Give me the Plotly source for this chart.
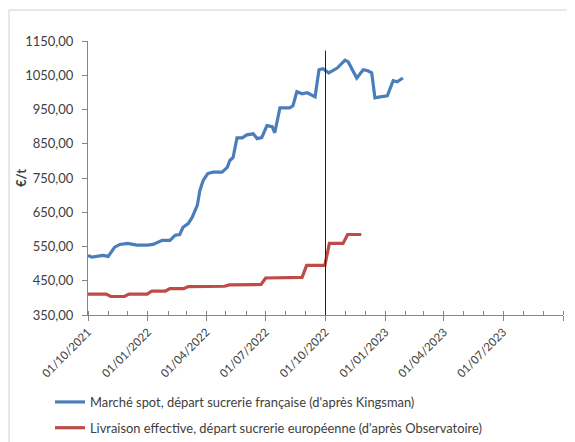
import plotly.graph_objects as go

blue_dates = ["2021-10-01","2021-10-07","2021-10-24","2021-11-01","2021-11-11","2021-11-19","2021-12-01","2021-12-15","2021-12-31",
              "2022-01-09","2022-01-23","2022-02-04","2022-02-12","2022-02-19","2022-02-24","2022-03-04","2022-03-10","2022-03-18",
              "2022-03-22","2022-03-27","2022-04-03","2022-04-11","2022-04-25","2022-05-03","2022-05-07","2022-05-12","2022-05-15",
              "2022-05-18","2022-05-26","2022-06-02","2022-06-12","2022-06-18","2022-06-25","2022-07-03","2022-07-11","2022-07-15",
              "2022-07-23","2022-08-07","2022-08-12","2022-08-18","2022-08-26","2022-09-03","2022-09-15","2022-09-21","2022-09-27",
              "2022-10-06","2022-10-19","2022-10-31","2022-11-05","2022-11-18","2022-11-28","2022-12-05","2022-12-11","2022-12-16",
              "2022-12-24","2023-01-04","2023-01-13","2023-01-19","2023-01-28"]
blue_values = [524,519,524,521,548,556,559,554,554,
               556,568,568,583,585,606,617,635,670,
               714,743,763,767,767,781,801,810,839,
               867,867,876,879,865,868,903,900,882,
               955,955,961,1002,996,999,987,1066,1069,
               1057,1071,1094,1089,1042,1066,1063,1057,984,
               987,990,1034,1031,1042]

red_dates = ["2021-10-01","2021-10-29","2021-11-05","2021-11-26","2021-12-03","2021-12-31",
             "2022-01-07","2022-01-28","2022-02-04","2022-02-25","2022-03-04","2022-03-25",
             "2022-04-01","2022-04-29","2022-05-06","2022-05-27","2022-06-03","2022-06-24",
             "2022-07-01","2022-07-29","2022-08-05","2022-08-26","2022-09-02","2022-09-30",
             "2022-10-07","2022-10-28","2022-11-04","2022-11-25"]
red_values = [411,411,404,404,411,411,
              420,420,427,427,433,433,
              434,434,438,438,439,439,
              458,458,460,460,495,495,
              559,559,585,585]

y_ticks = [350,450,550,650,750,850,950,1050,1150]
marker_date = "2022-10-01"

name_blue = "Marché spot, départ sucrerie française (d'après Kingsman)"
name_red = "Livraison effective, départ sucrerie européenne (d'après Observatoire)"

FONT = "Lato"
TXT = "#404040"
AX = "#868686"

fig = go.Figure()
fig.add_trace(go.Scatter(x=blue_dates, y=blue_values, mode="lines", name=name_blue,
                         legendgroup="a", line=dict(color="#4A7EBB", width=3.2)))
fig.add_trace(go.Scatter(x=red_dates, y=red_values, mode="lines", name=name_red,
                         legendgroup="b", line=dict(color="#BE4B48", width=3.2)))

fig.add_shape(type="line", xref="x", yref="y", x0=marker_date, x1=marker_date, y0=350, y1=1122,
              line=dict(color="#202020", width=1))
# light frame around the chart (x=1px, y=2px in figure coords)
fig.add_shape(type="rect", xref="paper", yref="paper",
              x0=(1 - 80) / 475, x1=1.1, y0=-0.7, y1=1 + (33 - 2) / 274,
              line=dict(color="#D0D0D0", width=1), layer="below")

# y-axis title
fig.add_annotation(text="<b>€/t</b>", xref="paper", yref="paper", x=-0.141, y=0.5,
                   textangle=-90, showarrow=False, xanchor="center", yanchor="middle",
                   font=dict(family=FONT, size=13, color=TXT))

fig.update_layout(
    width=575, height=442,
    margin=dict(l=80, r=20, t=33, b=135, autoexpand=False),
    paper_bgcolor="white", plot_bgcolor="white",
    separators=",.",
    font=dict(family=FONT, size=12, color=TXT),
    showlegend=True,
    legend=dict(x=-0.08, y=-0.263, xanchor="left", yanchor="top", traceorder="grouped",
                tracegroupgap=6, font=dict(family=FONT, size=12.9, color=TXT),
                itemwidth=30, bgcolor="rgba(0,0,0,0)"),
)
fig.update_xaxes(
    type="date", range=["2021-10-01", "2023-10-01"], automargin=False,
    dtick="M3", tick0="2021-10-01", tickformat="%d/%m/%Y", tickangle=-45,
    labelalias={"01/10/2023": ""},
    showline=True, linecolor=AX, linewidth=1, showgrid=False, zeroline=False,
    ticks="outside", ticklen=5, tickcolor=AX,
    minor=dict(dtick="M1", tick0="2021-10-01", ticks="inside", ticklen=4, tickcolor=AX, showgrid=False),
    tickfont=dict(family=FONT, size=11.5, color=TXT),
)
fig.update_yaxes(
    range=[350, 1150], tickvals=y_ticks, tickformat=".2f", automargin=False,
    showline=True, linecolor=AX, linewidth=1, showgrid=False, zeroline=False,
    ticks="outside", ticklen=5, tickcolor=AX, ticklabelstandoff=6,
    tickfont=dict(family=FONT, size=13, color=TXT),
)

fig.write_html("out.html")
